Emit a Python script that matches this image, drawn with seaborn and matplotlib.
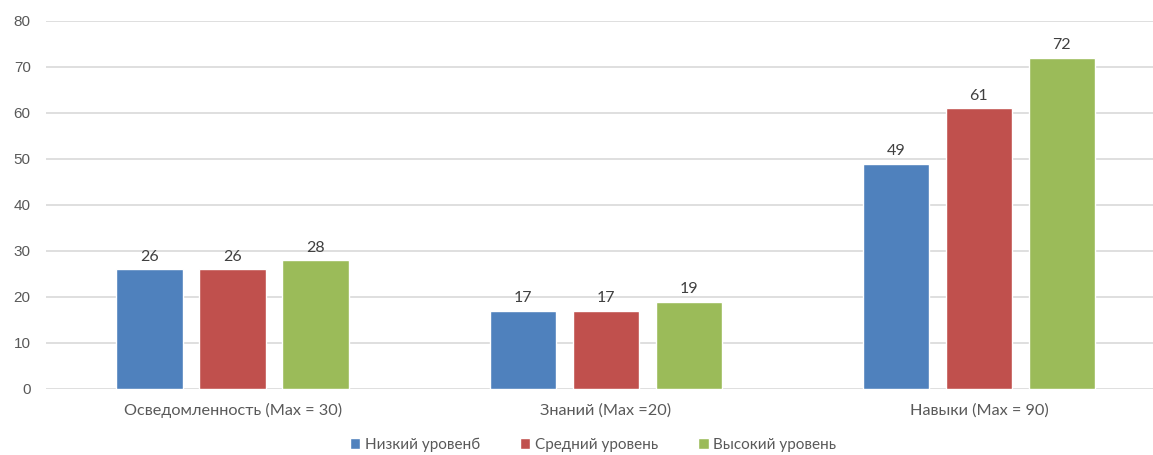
import numpy as np
import pandas as pd
import matplotlib
matplotlib.use('Agg')
import matplotlib.pyplot as plt
import seaborn as sns

categories = ['Осведомленность (Max = 30)', 'Знаний (Max =20)', 'Навыки (Max = 90)']
levels = ['Низкий уровенб', 'Средний уровень', 'Высокий уровень']
low_values = [26, 17, 49]
mid_values = [26, 17, 61]
high_values = [28, 19, 72]
y_ticks = [0, 10, 20, 30, 40, 50, 60, 70, 80]

colors = ['#4F81BD', '#C0504D', '#9BBB59']

rows = []
for lvl, vals in zip(levels, [low_values, mid_values, high_values]):
    for cat, v in zip(categories, vals):
        rows.append({'category': cat, 'level': lvl, 'value': v})
df = pd.DataFrame(rows)

sns.set_theme(style='white')
plt.rcParams['font.family'] = ['Lato', 'DejaVu Sans']

fig = plt.figure(figsize=(11.53, 4.55), dpi=100)
ax = fig.add_axes([46 / 1153, 66 / 455, 1119.5 / 1153, 368 / 455])

sns.barplot(data=df, x='category', y='value', hue='level', palette=colors,
            width=0.667, gap=0.2, saturation=1, ax=ax, legend=True)

for cont in ax.containers:
    ax.bar_label(cont, padding=4, fontsize=11.5, color='#404040')

ax.set_ylim(0, 80)
ax.set_xlim(-0.5, 2.5)
ax.set_yticks(y_ticks)
ax.set_yticklabels([str(t) for t in y_ticks], family='Liberation Sans', fontsize=11, color='#595959')
ax.yaxis.grid(True, color='#D9D9D9', linewidth=1.2)
ax.set_axisbelow(True)
for s in ax.spines.values():
    s.set_visible(False)
ax.tick_params(axis='y', length=0, pad=11)
ax.tick_params(axis='x', length=0, pad=10, labelsize=11.7, labelcolor='#595959')
ax.set_xlabel('')
ax.set_ylabel('')

handles, labels = ax.get_legend_handles_labels()
ax.legend_.remove()
fig.legend(handles, labels, loc='center', bbox_to_anchor=(593 / 1153, 1 - 445 / 455), ncol=3,
           frameon=False, fontsize=11, handlelength=0.7, handleheight=0.7, handletextpad=0.3,
           columnspacing=2.6, labelcolor='#595959')

fig.savefig('out.png', dpi=100)
